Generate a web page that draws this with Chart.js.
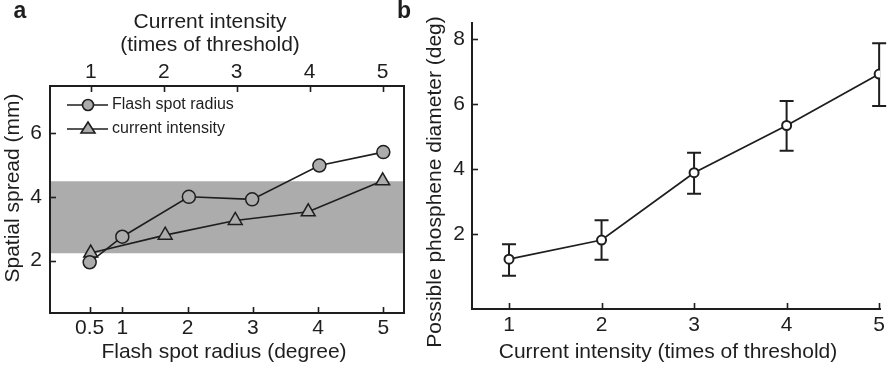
<!DOCTYPE html>
<html>
<head>
<meta charset="utf-8">
<script src="https://cdn.jsdelivr.net/npm/chart.js@4.4.1/dist/chart.umd.min.js"></script>
<style>
  html, body { margin: 0; padding: 0; background: #fff; }
  #wrap  { position: relative; width: 889px; height: 368px; }
  #boxA  { position: absolute; left: 0; top: 0; width: 420px; height: 368px; }
  #boxB  { position: absolute; left: 420px; top: 0; width: 469px; height: 368px; }
</style>
</head>
<body>
<div id="wrap">
  <div id="boxA"><canvas id="chartA" width="420" height="368"></canvas></div>
  <div id="boxB"><canvas id="chartB" width="469" height="368"></canvas></div>
</div>
<script>
// ─── data: panel a ───────────────────────────────────────────────────────────
const spotRadius      = [0.5, 1, 2.02, 2.99, 4.02, 5];      // bottom axis (degree)
const spotSpread      = [1.95, 2.75, 4.0, 3.92, 4.98, 5.4];
const intensityA      = [1, 2.02, 2.98, 3.98, 5];           // top axis (x threshold)
const intensitySpread = [2.24, 2.8, 3.26, 3.53, 4.5];
const bandRange       = [2.23, 4.49];
const xTicksA  = [0.5, 1, 2, 3, 4, 5];
const x2TicksA = [1, 2, 3, 4, 5];
const yTicksA  = [2, 4, 6];

// ─── data: panel b ───────────────────────────────────────────────────────────
const intensityB    = [1, 2, 3, 4, 5];
const phospheneDiam = [1.23, 1.82, 3.89, 5.34, 6.92];
const errLow        = [0.72, 1.21, 3.24, 4.56, 5.94];
const errHigh       = [1.69, 2.43, 4.50, 6.09, 7.87];
const xTicksB = [1, 2, 3, 4, 5];
const yTicksB = [2, 4, 6, 8];

const FONT = "'Liberation Sans', Arial, Helvetica, sans-serif";
const INK  = '#1e1e1e';
const GREY = '#acacac';

Chart.defaults.font.family = FONT;
Chart.defaults.color = INK;

const setTicks = vals => s => { s.ticks = vals.map(v => ({ value: v })); };
const tickFont = { family: FONT, size: 21 };

// inward tick marks
function drawTicks(ctx, scale, side, len) {
  const ca = scale.chart.chartArea;
  ctx.save();
  ctx.strokeStyle = INK;
  ctx.lineWidth = 1.6;
  scale.ticks.forEach(t => {
    const p = Math.round(scale.getPixelForValue(t.value)) + 0.5;
    ctx.beginPath();
    if (side === 'bottom') { ctx.moveTo(p, ca.bottom); ctx.lineTo(p, ca.bottom - len); }
    if (side === 'top')    { ctx.moveTo(p, ca.top);    ctx.lineTo(p, ca.top + len); }
    if (side === 'left')   { ctx.moveTo(ca.left, p);   ctx.lineTo(ca.left + len, p); }
    ctx.stroke();
  });
  ctx.restore();
}

function drawText(ctx, t) {
  ctx.save();
  ctx.translate(t.x, t.y);
  if (t.rot) ctx.rotate(t.rot);
  ctx.font = (t.bold ? 'bold ' : '') + t.size + 'px ' + FONT;
  ctx.fillStyle = INK;
  ctx.textAlign = 'center';
  ctx.textBaseline = 'middle';
  ctx.fillText(t.text, 0, 0);
  ctx.restore();
}

// ─── panel a ─────────────────────────────────────────────────────────────────
const panelA = {
  id: 'panelA',
  afterDatasetsDraw(chart) {
    const { ctx, chartArea: ca, scales } = chart;
    // frame
    ctx.save();
    ctx.strokeStyle = INK;
    ctx.lineWidth = 2;
    ctx.strokeRect(ca.left, ca.top, ca.right - ca.left, ca.bottom - ca.top);
    ctx.restore();
    drawTicks(ctx, scales.x, 'bottom', 6);
    drawTicks(ctx, scales.x2, 'top', 6);
    drawTicks(ctx, scales.y, 'left', 6);

    // legend
    const rows = [
      { label: 'Flash spot radius', y: 105, shape: 'circle' },
      { label: 'current intensity', y: 129, shape: 'triangle' },
    ];
    ctx.save();
    rows.forEach(r => {
      ctx.strokeStyle = INK;
      ctx.lineWidth = 1.6;
      ctx.beginPath(); ctx.moveTo(67, r.y); ctx.lineTo(108, r.y); ctx.stroke();
      ctx.fillStyle = GREY;
      ctx.beginPath();
      if (r.shape === 'circle') {
        ctx.arc(88, r.y, 5.5, 0, Math.PI * 2);
      } else {
        ctx.moveTo(88, r.y - 7); ctx.lineTo(95, r.y + 4); ctx.lineTo(81, r.y + 4); ctx.closePath();
      }
      ctx.fill(); ctx.stroke();
      ctx.font = '16px ' + FONT;
      ctx.fillStyle = INK;
      ctx.textAlign = 'left';
      ctx.textBaseline = 'middle';
      ctx.fillText(r.label, 112, r.y);
    });
    ctx.restore();

    // titles and panel letters
    [
      { text: 'Current intensity', x: 210, y: 22, size: 21 },
      { text: '(times of threshold)', x: 210, y: 45, size: 21 },
      { text: 'Flash spot radius (degree)', x: 224, y: 352, size: 21 },
      { text: 'Spatial spread (mm)', x: 13, y: 188, size: 21, rot: -Math.PI / 2 },
      { text: 'a', x: 20, y: 12, size: 23, bold: true },
      { text: 'b', x: 404, y: 12, size: 23, bold: true },
    ].forEach(t => drawText(ctx, t));
  },
};

new Chart(document.getElementById('chartA'), {
  type: 'line',
  data: {
    datasets: [
      {
        label: 'Flash spot radius',
        data: spotRadius.map((x, i) => ({ x, y: spotSpread[i] })),
        xAxisID: 'x',
        borderColor: INK, borderWidth: 1.6, tension: 0,
        pointStyle: 'circle', pointRadius: 6.5,
        pointBackgroundColor: GREY, pointBorderColor: INK, pointBorderWidth: 1.5,
      },
      {
        label: 'current intensity',
        data: intensityA.map((x, i) => ({ x, y: intensitySpread[i] })),
        xAxisID: 'x2',
        borderColor: INK, borderWidth: 1.6, tension: 0,
        pointStyle: 'triangle', pointRadius: 8,
        pointBackgroundColor: GREY, pointBorderColor: INK, pointBorderWidth: 1.5,
      },
      {
        label: 'band',
        data: [{ x: -0.11, y: bandRange[1] }, { x: 5.32, y: bandRange[1] }],
        xAxisID: 'x',
        borderWidth: 0, pointRadius: 0,
        backgroundColor: GREY,
        fill: { value: bandRange[0] },
      },
    ],
  },
  options: {
    responsive: false, animation: false, events: [],
    layout: { padding: { left: 0, right: 16, top: 0, bottom: 0 } },
    plugins: { legend: { display: false }, tooltip: { enabled: false } },
    scales: {
      x: {
        type: 'linear', position: 'bottom', min: -0.108, max: 5.317,
        afterBuildTicks: setTicks(xTicksA),
        afterFit: s => { s.height = 55; },
        grid: { display: false, drawTicks: false }, border: { display: false },
        ticks: { font: tickFont, color: INK, padding: 2.5, maxRotation: 0 },
      },
      x2: {
        type: 'linear', position: 'top', min: 0.442, max: 5.292,
        afterBuildTicks: setTicks(x2TicksA),
        afterFit: s => { s.height = 86; },
        grid: { display: false, drawTicks: false }, border: { display: false },
        ticks: { font: tickFont, color: INK, padding: 1.5, maxRotation: 0 },
      },
      y: {
        type: 'linear', position: 'left', min: 0.362, max: 7.47,
        afterBuildTicks: setTicks(yTicksA),
        afterFit: s => { s.width = 50; },
        grid: { display: false, drawTicks: false }, border: { display: false },
        ticks: { font: tickFont, color: INK, padding: 8 },
      },
    },
  },
  plugins: [panelA],
});

// ─── panel b ─────────────────────────────────────────────────────────────────
const panelB = {
  id: 'panelB',
  beforeDatasetsDraw(chart) {
    const { ctx, scales: { x, y } } = chart;
    ctx.save();
    ctx.strokeStyle = INK;
    ctx.lineWidth = 2;
    intensityB.forEach((v, i) => {
      const px = x.getPixelForValue(v);
      const lo = y.getPixelForValue(errLow[i]);
      const hi = y.getPixelForValue(errHigh[i]);
      ctx.beginPath();
      ctx.moveTo(px, lo); ctx.lineTo(px, hi);
      ctx.moveTo(px - 7, lo); ctx.lineTo(px + 7, lo);
      ctx.moveTo(px - 7, hi); ctx.lineTo(px + 7, hi);
      ctx.stroke();
    });
    ctx.restore();
  },
  afterDatasetsDraw(chart) {
    const { ctx, scales } = chart;
    drawTicks(ctx, scales.x, 'bottom', 6);
    drawTicks(ctx, scales.y, 'left', 6);
    [
      { text: 'Current intensity (times of threshold)', x: 248, y: 352, size: 21 },
      { text: 'Possible phosphene diameter (deg)', x: 15, y: 182, size: 21, rot: -Math.PI / 2 },
    ].forEach(t => drawText(ctx, t));
  },
};

new Chart(document.getElementById('chartB'), {
  type: 'line',
  data: {
    datasets: [{
      label: 'phosphene',
      data: intensityB.map((x, i) => ({ x, y: phospheneDiam[i] })),
      borderColor: INK, borderWidth: 1.8, tension: 0,
      pointStyle: 'circle', pointRadius: 4.5,
      pointBackgroundColor: '#fff', pointBorderColor: INK, pointBorderWidth: 2,
    }],
  },
  options: {
    responsive: false, animation: false, events: [],
    layout: { padding: { left: 0, right: 8, top: 23, bottom: 0 } },
    plugins: { legend: { display: false }, tooltip: { enabled: false } },
    scales: {
      x: {
        type: 'linear', position: 'bottom', min: 0.6, max: 5.01,
        afterBuildTicks: setTicks(xTicksB),
        afterFit: s => { s.height = 59; },
        grid: { display: false, drawTicks: false },
        border: { display: true, color: INK, width: 2 },
        ticks: { font: tickFont, color: INK, padding: 4, maxRotation: 0 },
      },
      y: {
        type: 'linear', position: 'left', min: -0.3, max: 8.49,
        afterBuildTicks: setTicks(yTicksB),
        afterFit: s => { s.width = 52; },
        grid: { display: false, drawTicks: false },
        border: { display: true, color: INK, width: 2 },
        ticks: { font: tickFont, color: INK, padding: 7 },
      },
    },
  },
  plugins: [panelB],
});
</script>
</body>
</html>
